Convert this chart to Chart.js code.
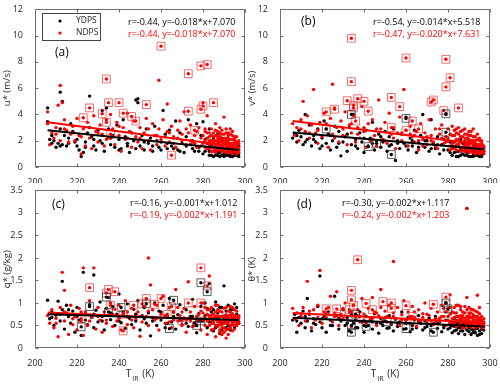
<!DOCTYPE html>
<html>
<head>
<meta charset="utf-8">
<script src="https://cdn.jsdelivr.net/npm/chart.js@4"></script>
<style>
html, body { margin: 0; padding: 0; width: 500px; height: 385px; overflow: hidden; background: #fff; }
canvas { position: absolute; }
</style>
</head>
<body>
<canvas id="ga" width="262" height="187" style="left:0;top:0"></canvas>
<canvas id="gb" width="262" height="187" style="left:245px;top:0"></canvas>
<canvas id="gc" width="262" height="204" style="left:0;top:181px"></canvas>
<canvas id="gd" width="262" height="204" style="left:245px;top:181px"></canvas>
<script>
const fuente = "'Open Sans', sans-serif";
const colorTexto = "#262626";

// ticks
const ticksX = [200, 220, 240, 260, 280, 300];
const ticksUV = [0, 2, 4, 6, 8, 10, 12];
const ticksQT = [0, 0.5, 1, 1.5, 2, 2.5, 3, 3.5];
const leyenda = ["YDPS", "NDPS"];

// (a) u*  -- pares x,y
const uNegro = [206,4.5, 206,3.45, 207,2.1, 208,1.8, 209,2.0, 210,1.5, 211,1.8, 212,5.7, 212,2.9, 213,5.0, 213,1.7, 214,2.4, 215,1.6, 216,2.2, 217,3.3, 218,2.7, 219,1.9, 220,2.1, 221,1.3, 222,0.8, 223,1.1, 224,1.5, 225,2.6, 226,5.4, 226,3.0, 227,2.3, 228,1.6, 229,1.3, 230,2.8, 231,2.0,
  232,4.3, 233,1.2, 234,4.5, 235,2.9, 236,1.7, 237,2.4, 238,1.5, 239,3.2, 240,2.1, 241,1.4, 242,3.6, 243,2.3, 244,1.8, 245,1.1, 246,2.6, 247,2.0, 248,5.1, 249,5.2, 249,4.9, 250,1.6, 251,2.4, 252,1.3, 253,2.9, 254,1.8, 255,2.2, 256,1.2, 257,3.1, 258,2.0, 259,1.5, 260,1.9,
  261,4.3, 262,2.5, 263,1.4, 264,2.8, 265,1.6, 266,2.2, 267,3.5, 268,1.3, 269,2.6, 270,1.8, 271,1.1, 272,2.3, 273,3.6, 274,1.7, 275,2.0, 276,1.2, 277,3.3, 278,1.5, 279,2.4, 280,3.45, 280,1.0, 281,2.1, 282,1.4, 283,2.9, 283,0.9, 284,1.7, 285,1.2, 285,2.2, 286,0.9, 286,1.6,
  287,2.5, 287,1.1, 288,1.9, 288,0.8, 289,1.3, 289,2.2, 290,1.0, 290,1.7, 291,1.4, 291,2.0, 292,0.9, 292,1.2, 293,1.6, 293,1.0, 294,1.3, 294,0.8, 295,1.5, 295,1.1, 296,0.9, 296,1.3, 297,1.0, 297,1.6];
const uNegroNube = [281,1.2, 282,1.8, 283,1.2, 284,0.9, 284,2.0, 285,0.8, 286,1.2, 287,0.9, 288,1.4, 288,1.1, 289,0.9, 289,1.6, 290,1.3, 290,0.8, 291,1.1, 291,0.9, 292,1.5, 292,1.8, 293,0.8, 293,1.3, 294,1.1, 294,1.6, 295,0.9, 295,1.3, 296,1.1, 296,1.6, 297,1.3, 297,0.8,
  278,1.2, 275,1.4, 272,1.6, 269,1.2, 266,1.4, 263,1.8, 260,1.3, 256,1.6, 252,1.9, 248,1.4, 244,1.6, 240,1.3, 236,2.2, 232,1.8, 228,2.1, 224,1.9, 220,1.6, 216,1.8, 212,1.6, 208,2.4];
const uRojo = [206,4.2, 206,3.3, 207,1.7, 208,2.6, 209,2.2, 210,3.0, 211,4.7, 212,6.2, 212,2.0, 213,4.9, 214,3.6, 215,2.8, 216,1.9, 217,2.5, 218,3.1, 219,2.0, 220,3.7, 221,2.4, 222,1.0, 223,2.9, 224,1.6, 225,3.4, 226,2.2, 227,1.4, 228,3.9, 229,2.7, 230,1.9,
  231,3.2, 232,2.5, 233,1.6, 234,3.6, 235,2.2, 236,4.0, 237,2.9, 238,1.7, 239,3.4, 240,2.4, 241,1.2, 242,3.0, 243,2.1, 244,4.1, 245,2.7, 246,1.5, 247,3.5, 248,2.3, 249,1.9, 250,3.0, 251,1.4, 252,2.6, 253,3.7, 254,2.0, 255,1.3, 256,3.3, 257,2.4, 258,1.7, 259,6.6, 259,2.9,
  260,2.1, 261,3.6, 262,1.6, 263,4.8, 263,2.7, 264,1.9, 265,3.1, 266,2.3, 267,1.5, 268,2.8, 269,3.5, 270,2.0, 271,4.2, 272,1.7, 273,2.6, 274,3.2, 275,1.9, 276,2.4, 277,1.5, 278,3.0, 279,2.2, 280,4.9, 280,1.8, 281,2.7, 282,1.4, 282,3.9, 283,2.3, 283,1.7, 284,2.9, 284,1.2,
  285,2.0, 285,1.5, 286,3.3, 286,2.4, 286,1.1, 287,1.8, 287,2.7, 287,1.3, 288,2.1, 288,1.6, 288,3.0, 289,1.2, 289,2.5, 289,1.9, 290,1.4, 290,2.2, 290,3.8, 291,1.7, 291,2.6, 291,1.1, 292,2.0, 292,1.5, 292,2.4, 293,1.3, 293,1.8, 293,2.9, 294,1.6, 294,2.1, 294,1.0,
  295,1.4, 295,1.9, 295,2.3, 296,1.2, 296,1.7, 297,1.5, 297,2.0];
const uRojoNube = [280,2.4, 281,1.5, 281,2.0, 282,2.6, 282,1.8, 283,1.4, 283,2.6, 284,2.0, 284,2.4, 284,1.5, 285,2.6, 285,1.8, 285,1.2, 286,2.0, 286,1.6, 286,2.8, 287,2.2, 287,1.5, 287,2.4, 288,1.3, 288,1.9, 288,2.6, 289,1.6, 289,2.1, 289,2.8, 290,1.2, 290,1.8, 290,2.5,
  291,1.5, 291,2.2, 291,2.9, 292,1.3, 292,1.8, 292,2.2, 293,1.1, 293,1.6, 293,2.1, 293,2.5, 294,1.3, 294,1.8, 294,2.4, 295,1.2, 295,1.7, 295,2.1, 296,1.0, 296,1.5, 296,1.9, 296,2.3, 297,1.3, 297,1.8, 286,1.3, 288,2.3, 290,2.0, 292,2.6, 294,2.7, 284,1.8, 282,2.2,
  281,2.9, 283,2.0, 285,2.3, 287,2.0, 289,1.4, 291,1.9, 293,1.4, 295,1.5, 297,1.1, 262,2.3, 266,1.8, 270,2.5, 274,2.0, 277,2.7, 279,1.6, 276,1.8, 272,2.9, 268,2.2, 264,2.6, 258,2.4, 254,2.9, 250,2.2, 246,2.6, 244,2.2, 240,3.1, 237,2.3, 234,2.1, 230,2.6,
  226,3.0, 222,2.3, 218,2.6, 214,2.9, 210,2.5];
const uCajaRoja = [234,6.7, 223,3.75, 226,4.5, 232,4.05, 235,4.9, 240,4.9, 242,4.1, 246,3.85, 253,4.75, 260,9.2, 273,7.1, 279,7.7, 282,7.8, 273,4.25, 279,4.4, 280,4.65, 285,4.9, 265,0.9, 276,2.8, 234,3.4, 236,2.5, 248,3.5];
const uCajaNegra = [];
const uLineaNegra = [206,2.8, 297,1.3];
const uLineaRoja = [206,3.4, 297,1.55];

// (b) v*
const vNegro = [206,2.2, 207,2.5, 208,1.9, 209,2.8, 210,2.3, 211,1.7, 212,4.0, 212,2.6, 213,2.1, 214,3.2, 215,1.6, 216,2.4, 217,1.9, 218,2.9, 219,1.4, 220,2.2, 221,3.5, 222,1.8, 223,2.5, 224,1.3, 225,2.0, 226,3.1, 227,1.5, 228,2.7, 229,0.85, 230,1.9,
  231,2.3, 232,1.2, 233,3.0, 234,1.7, 235,4.0, 236,2.1, 237,1.4, 238,2.6, 239,1.9, 240,1.1, 241,2.8, 242,1.6, 243,2.2, 244,3.4, 245,1.3, 246,2.0, 247,2.5, 248,1.5, 249,1.9, 250,2.7, 251,1.2, 252,2.3, 253,1.7, 254,2.9, 255,0.5, 256,2.0, 257,1.4, 258,2.5, 259,1.8,
  260,3.8, 261,1.3, 262,2.2, 263,1.6, 264,2.8, 265,1.1, 266,1.9, 267,2.4, 268,4.0, 269,1.5, 270,2.0, 271,1.2, 272,3.6, 273,1.8, 274,1.4, 275,2.3, 276,1.0, 277,1.7, 278,2.1, 279,4.0, 280,1.3, 281,1.9, 282,0.9, 283,1.5, 283,2.4, 284,1.2, 285,1.7, 285,0.8,
  286,2.1, 286,1.4, 287,1.0, 287,1.8, 288,1.3, 288,0.9, 289,1.6, 289,2.2, 290,1.1, 290,1.5, 291,0.8, 291,1.9, 292,1.3, 292,1.0, 293,1.6, 293,1.2, 294,0.9, 294,1.4, 295,1.1, 295,1.7, 296,1.3, 296,1.0, 297,1.2, 297,1.5];
const vNegroNube = [281,1.1, 282,1.6, 283,1.1, 284,0.8, 284,1.6, 285,1.2, 286,0.9, 287,1.4, 288,1.7, 289,1.1, 289,0.9, 290,1.8, 290,0.8, 291,1.2, 292,1.6, 292,0.8, 293,0.9, 293,1.4, 294,1.1, 294,1.2, 295,0.8, 295,1.4, 296,1.2, 296,0.8, 297,1.0, 297,1.3,
  278,1.3, 275,1.7, 272,1.4, 269,2.0, 266,1.5, 263,2.0, 260,1.6, 256,1.8, 252,1.6, 248,2.3, 244,1.8, 240,2.2, 236,1.6, 232,2.5, 228,1.8, 224,2.4, 220,1.6, 216,2.1, 212,1.9, 208,2.4];
const vRojo = [206,3.3, 207,2.4, 208,3.0, 209,2.0, 210,3.6, 211,5.0, 212,2.7, 213,3.9, 214,2.2, 215,3.2, 216,5.9, 217,2.6, 218,1.8, 219,3.4, 220,2.3, 221,4.1, 222,2.9, 223,1.5, 224,3.7, 225,6.3, 225,2.5, 226,4.5, 227,3.0, 228,1.9, 229,3.5, 230,2.4,
  231,4.2, 232,1.7, 233,3.2, 234,2.6, 235,3.9, 236,1.9, 237,3.0, 238,2.2, 239,4.6, 240,2.7, 241,1.5, 242,3.3, 243,2.0, 244,3.6, 245,2.4, 246,1.6, 247,5.1, 248,2.9, 249,2.1, 250,3.4, 251,1.8, 252,4.1, 253,2.5, 254,3.0, 255,1.4, 256,2.6, 257,3.8, 258,2.0, 259,5.9,
  260,2.8, 261,1.6, 262,3.1, 263,2.3, 264,1.9, 265,2.7, 266,1.3, 267,3.3, 268,2.1, 269,2.6, 270,1.7, 271,3.6, 272,2.4, 273,1.9, 274,2.9, 275,1.4, 276,2.5, 277,3.2, 278,1.8, 279,2.3, 280,2.0, 280,2.9, 281,1.6, 282,3.1, 282,2.4, 283,1.9, 283,1.4, 284,2.6, 284,2.1,
  285,1.7, 285,3.0, 286,2.3, 286,1.5, 287,2.8, 287,1.9, 287,1.3, 288,2.2, 288,1.7, 288,2.9, 289,1.5, 289,2.5, 289,1.9, 290,1.3, 290,2.1, 290,2.7, 291,1.8, 291,1.4, 291,2.4, 292,1.6, 292,2.0, 292,2.9, 293,1.3, 293,1.8, 293,2.3, 294,1.5, 294,2.1, 294,1.1,
  295,1.7, 295,1.3, 295,2.0, 296,1.4, 296,1.8, 297,1.2, 297,1.6];
const vRojoNube = [280,2.2, 281,1.3, 281,2.5, 282,1.8, 282,1.4, 283,2.4, 283,2.8, 284,1.7, 284,1.3, 285,2.1, 285,2.5, 286,1.2, 286,1.9, 286,2.7, 287,1.5, 287,2.3, 288,1.2, 288,2.0, 288,2.5, 289,1.3, 289,1.7, 289,2.2, 290,1.1, 290,1.6, 290,2.4, 291,1.2, 291,2.0,
  291,2.7, 292,1.1, 292,1.4, 292,2.3, 293,1.0, 293,1.5, 293,2.0, 294,1.2, 294,1.7, 294,2.5, 295,1.0, 295,1.5, 295,2.2, 296,1.1, 296,1.6, 296,2.0, 297,1.0, 297,1.4, 284,2.9, 288,1.5, 290,1.9, 292,1.8, 294,1.4, 296,1.3,
  262,2.5, 266,2.0, 270,2.3, 274,1.6, 277,2.2, 279,1.9, 276,2.9, 272,2.0, 268,1.6, 264,2.4, 258,2.6, 254,2.2, 250,2.0, 246,2.9, 244,2.1, 240,3.0, 237,2.5, 234,3.3, 230,2.9, 226,2.2, 222,3.3, 218,2.8, 214,2.6, 210,2.9];
const vCajaRoja = [234,9.8, 260,8.3, 279,8.2, 281,6.8, 279,6.1, 234,6.5, 237,5.2, 240,5.0, 232,5.05, 253,5.3, 273,5.1, 272,4.95, 257,4.6, 285,4.5, 222,4.2, 226,4.4, 235,4.5, 242,4.25, 236,3.5, 260,2.8, 263,3.5, 266,2.9, 278,4.3, 253,3.0, 235,4.7];
const vCajaNegra = [222,2.9, 234,4.0, 242,1.55, 253,0.95, 260,3.7, 279,4.05, 279,2.65, 246,1.8];
const vLineaNegra = [206,2.63, 297,1.36];
const vLineaRoja = [206,3.51, 297,1.69];

// (c) q*
const qNegro = [206,1.06, 207,0.65, 208,0.8, 209,0.5, 210,0.73, 211,1.04, 212,0.6, 213,1.48, 213,0.85, 214,0.42, 215,0.95, 216,0.7, 217,0.55, 218,0.82, 219,0.35, 220,0.9, 221,0.62, 222,0.28, 223,1.68, 224,0.76, 225,0.52, 226,0.96, 227,0.68, 228,1.62, 228,0.45,
  229,0.84, 230,0.58, 231,1.02, 232,0.7, 233,0.4, 234,0.88, 235,1.12, 236,0.63, 237,0.92, 238,0.5, 239,0.75, 240,1.2, 241,0.56, 242,0.8, 243,0.44, 244,0.98, 245,0.66, 246,0.52, 247,0.86, 248,0.6, 249,1.05, 250,0.4, 251,0.72, 252,0.9, 253,0.55, 254,0.78, 255,0.27,
  256,0.68, 257,1.0, 258,0.5, 259,0.82, 260,0.62, 261,0.95, 262,0.45, 263,0.7, 264,1.1, 265,0.58, 266,0.8, 267,0.42, 268,0.74, 269,0.96, 270,0.52, 271,0.66, 272,0.85, 273,0.48, 274,0.7, 275,1.08, 276,0.55, 277,0.34, 278,0.76, 279,0.92, 280,0.6, 281,1.0,
  282,0.45, 283,0.72, 283,1.43, 284,0.56, 285,0.85, 285,0.38, 286,0.66, 286,1.02, 287,0.5, 287,0.78, 288,0.62, 288,0.32, 289,0.9, 289,0.55, 290,0.7, 290,1.38, 291,0.45, 291,0.82, 292,0.6, 292,0.95, 293,0.4, 293,0.72, 294,0.86, 294,0.52, 295,0.65, 295,0.98,
  296,0.58, 296,0.75, 297,0.7];
const qNegroNube = [281,0.72, 282,0.88, 283,0.58, 284,0.8, 285,0.62, 286,0.45, 287,0.65, 288,0.9, 289,0.4, 290,0.58, 291,0.7, 292,0.5, 293,0.85, 294,0.65, 295,0.45, 296,0.9, 297,0.55, 278,0.6, 275,0.7, 272,0.55, 269,0.62, 266,0.7, 263,0.55, 260,0.8,
  256,0.6, 252,0.65, 248,0.75, 244,0.7, 240,0.6, 236,0.78, 232,0.6, 228,0.75, 224,0.62, 220,0.7, 216,0.85, 212,0.75, 208,0.68];
const qRojo = [206,0.72, 207,0.55, 208,0.85, 209,0.45, 210,0.66, 211,0.25, 212,0.9, 213,1.68, 214,1.28, 214,0.6, 215,0.78, 216,0.3, 217,0.95, 218,0.52, 219,0.7, 220,0.4, 221,0.88, 222,0.6, 223,1.78, 223,0.28, 224,0.8, 225,0.5, 226,1.05, 227,0.68, 228,1.78,
  229,0.42, 230,0.9, 231,0.62, 232,0.35, 233,0.8, 234,0.55, 235,0.72, 236,1.0, 237,0.48, 238,0.86, 239,0.6, 240,0.95, 241,0.4, 242,0.78, 243,1.05, 244,0.52, 245,0.7, 246,0.88, 247,0.45, 248,0.65, 249,0.8, 250,0.26, 251,0.58, 252,0.92, 253,0.7, 254,2.0, 254,0.5,
  255,1.4, 256,0.85, 257,0.62, 258,0.95, 259,0.4, 260,0.75, 261,1.15, 262,0.55, 263,0.68, 264,0.9, 265,0.45, 266,0.8, 267,1.3, 268,0.6, 269,0.72, 270,0.5, 271,0.88, 272,0.35, 273,1.47, 273,0.66, 274,0.8, 275,0.48, 276,0.92, 277,0.6, 278,0.75, 279,0.4,
  280,1.0, 280,0.62, 281,0.5, 282,0.85, 282,0.3, 283,1.6, 283,0.7, 284,0.55, 284,0.9, 285,0.42, 285,0.66, 286,0.8, 286,0.5, 286,0.25, 287,0.72, 287,0.58, 287,0.95, 288,0.4, 288,0.62, 288,0.82, 289,0.52, 289,0.7, 289,0.3, 290,0.6, 290,0.88, 290,0.45,
  291,0.74, 291,0.55, 291,0.22, 292,0.66, 292,0.82, 292,0.42, 293,0.5, 293,0.7, 293,0.92, 294,0.58, 294,0.76, 294,0.38, 295,0.64, 295,0.5, 295,0.85, 296,0.56, 296,0.7, 297,0.6, 297,0.66];
const qRojoNube = [280,0.78, 281,0.68, 281,0.9, 282,0.6, 282,0.75, 283,0.5, 283,0.85, 284,0.65, 284,0.4, 285,0.75, 285,0.55, 286,0.95, 286,0.62, 287,0.48, 287,0.85, 288,0.7, 288,0.52, 288,0.35, 289,0.8, 289,0.6, 289,0.45, 290,0.72, 290,0.55, 290,0.35, 291,0.65,
  291,0.9, 291,0.4, 292,0.55, 292,0.72, 292,0.3, 293,0.62, 293,0.8, 293,0.45, 294,0.68, 294,0.52, 294,0.9, 295,0.58, 295,0.72, 295,0.42, 296,0.65, 296,0.5, 296,0.82, 297,0.55, 297,0.72, 286,0.7, 288,0.58, 290,0.65, 292,0.6, 294,0.62, 284,0.72,
  262,0.72, 266,0.62, 270,0.8, 274,0.6, 277,0.7, 279,0.82, 276,0.5, 272,0.62, 268,0.9, 264,0.58, 258,0.66, 254,0.82, 250,0.7, 246,0.62, 244,0.8, 240,0.66, 237,0.75, 234,0.62, 230,0.7, 226,0.6, 222,0.8, 218,0.65, 214,0.8, 210,0.55];
const qCajaRoja = [279,1.78, 226,1.34, 235,1.3, 234,1.22, 238,1.25, 253,1.1, 260,1.1, 236,0.95, 247,0.95, 251,0.98, 257,0.97, 265,0.92, 273,1.0, 279,1.0, 282,1.38, 242,0.38, 222,0.65, 242,0.75, 263,0.75, 270,0.6];
const qCajaNegra = [222,0.47, 226,0.92, 234,1.13, 235,0.8, 241,0.9, 253,0.98, 264,0.43, 266,1.06, 279,1.45, 282,1.25, 279,0.6, 277,0.5];
const qLineaNegra = [206,0.75, 297,0.62];
const qLineaRoja = [206,0.79, 297,0.6];

// (d) theta*
const tNegro = [206,0.62, 207,0.75, 208,0.35, 209,0.68, 210,0.55, 211,0.82, 212,0.45, 213,1.1, 213,0.6, 214,0.75, 215,0.38, 216,0.65, 217,0.52, 218,0.92, 219,1.6, 219,0.58, 220,0.45, 221,0.7, 222,0.35, 223,0.8, 224,0.62, 225,0.5, 226,1.15, 227,0.72, 228,0.42,
  229,0.6, 230,0.85, 231,0.5, 232,0.68, 233,0.38, 234,0.75, 235,0.55, 236,0.62, 237,0.45, 238,0.8, 239,0.58, 240,0.35, 241,0.7, 242,0.5, 243,0.62, 244,0.42, 245,0.76, 246,0.55, 247,0.33, 248,0.66, 249,0.5, 250,0.6, 251,0.44, 252,0.72, 253,0.52, 254,0.38,
  255,0.64, 256,0.48, 257,0.58, 258,0.8, 259,0.42, 260,0.55, 261,0.68, 262,0.36, 263,0.5, 264,0.62, 265,0.45, 266,0.72, 267,0.55, 268,0.4, 269,0.6, 270,0.48, 271,0.66, 272,0.38, 273,0.54, 274,0.7, 275,0.44, 276,0.58, 277,0.36, 278,0.5, 279,1.0, 279,0.62,
  280,0.42, 281,0.56, 282,0.34, 283,0.48, 283,0.66, 284,0.4, 285,0.55, 285,0.32, 286,0.46, 286,0.62, 287,0.38, 287,0.52, 288,0.3, 288,0.45, 289,3.1, 289,0.58, 290,0.36, 290,0.5, 291,0.42, 291,0.3, 292,0.55, 292,0.4, 293,0.34, 293,0.48, 294,0.28, 294,0.44,
  295,0.38, 295,0.52, 296,0.32, 296,0.46, 297,0.4];
const tNegroNube = [281,0.45, 282,0.5, 283,0.38, 284,0.55, 285,0.45, 286,0.38, 287,0.45, 288,0.55, 289,0.4, 290,0.45, 291,0.52, 292,0.35, 293,0.42, 294,0.5, 295,0.3, 296,0.42, 297,0.48, 278,0.45, 275,0.55, 272,0.5, 269,0.45, 266,0.6, 263,0.42, 260,0.62,
  256,0.55, 252,0.45, 248,0.55, 244,0.58, 240,0.5, 236,0.45, 232,0.55, 228,0.66, 224,0.5, 220,0.65, 216,0.55, 212,0.7, 208,0.6];
const tRojo = [206,0.88, 207,0.65, 208,0.78, 209,0.5, 210,0.7, 211,0.9, 212,0.6, 213,1.48, 214,0.75, 215,0.45, 216,0.85, 217,0.62, 218,0.95, 219,1.72, 220,0.55, 221,0.8, 222,0.68, 223,0.9, 224,1.15, 225,0.58, 226,0.78, 227,1.25, 228,0.5, 229,0.72, 230,0.88,
  231,1.0, 232,0.62, 233,0.8, 234,0.48, 235,0.95, 236,0.7, 237,0.85, 238,0.58, 239,1.1, 240,0.75, 241,0.55, 242,0.88, 243,0.65, 244,1.12, 245,0.8, 246,0.5, 247,0.72, 248,1.3, 248,0.9, 249,0.6, 250,0.82, 251,0.7, 252,0.95, 253,0.55, 254,1.92, 254,0.78,
  255,0.65, 256,0.9, 257,0.5, 258,0.74, 259,1.05, 260,0.62, 261,0.8, 262,0.55, 263,0.92, 264,0.68, 265,0.48, 266,0.85, 267,0.6, 268,0.76, 269,1.0, 270,0.58, 271,0.72, 272,0.88, 273,0.52, 274,0.66, 275,0.8, 276,0.6, 277,0.95, 278,0.7, 279,0.5, 280,0.85,
  280,0.62, 281,0.75, 281,1.18, 282,0.55, 283,0.9, 283,0.68, 284,0.48, 284,0.78, 285,0.62, 285,0.95, 286,0.55, 286,0.72, 286,0.85, 287,0.45, 287,0.66, 287,0.8, 288,0.58, 288,0.92, 288,0.5, 289,3.1, 289,0.7, 289,0.62, 289,1.12, 290,0.52, 290,0.78, 290,0.66,
  291,0.58, 291,0.86, 291,0.46, 292,0.64, 292,0.74, 292,0.55, 293,0.5, 293,0.7, 293,0.82, 294,1.17, 294,0.6, 294,0.48, 295,0.66, 295,0.55, 295,0.76, 296,0.52, 296,0.62, 297,0.58, 297,0.5];
const tRojoNube = [280,0.7, 281,0.55, 281,0.9, 282,0.65, 282,0.8, 283,0.55, 283,0.78, 284,0.62, 284,0.95, 285,0.7, 285,0.5, 286,0.65, 286,0.92, 287,0.58, 287,0.72, 288,0.66, 288,0.78, 288,0.45, 289,0.55, 289,0.85, 290,0.6, 290,0.72, 290,0.9, 291,0.52, 291,0.68,
  291,0.78, 292,0.5, 292,0.6, 292,0.85, 293,0.58, 293,0.62, 293,0.45, 294,0.7, 294,0.55, 294,0.8, 295,0.5, 295,0.6, 295,0.9, 296,0.56, 296,0.7, 296,0.45, 297,0.55, 297,0.65, 286,0.58, 288,0.6, 290,0.55, 292,0.68, 294,0.64, 284,0.7,
  262,0.7, 266,0.62, 270,0.75, 274,0.58, 277,0.7, 279,0.8, 276,0.66, 272,0.6, 268,0.68, 264,0.8, 258,0.62, 254,0.7, 250,0.68, 246,0.78, 244,0.66, 240,0.62, 237,0.72, 234,0.8, 230,0.66, 226,0.7, 222,0.78, 218,0.68, 214,0.82, 210,0.76];
const tCajaRoja = [237,1.96, 234,1.28, 234,1.07, 233,0.85, 241,0.99, 249,1.03, 253,1.0, 253,0.88, 260,0.94, 273,0.97, 279,1.13, 222,0.87, 227,0.87, 235,0.95, 244,0.85, 238,0.7, 263,0.7, 278,0.88, 229,0.75];
const tCajaNegra = [234,0.35, 236,0.75, 241,0.48, 260,0.43, 273,0.35, 279,1.0, 280,0.87, 234,0.5, 251,0.58];
const tLineaNegra = [206,0.67, 297,0.48];
const tLineaRoja = [206,0.78, 297,0.56];

const pares = (arr) => {
    const out = [];
    for (let i = 0; i < arr.length; i += 2) out.push({ x: arr[i], y: arr[i + 1] });
    return out;
};

// marco, ticks hacia adentro, textos y leyenda
const marco = {
    id: 'marco',
    afterDatasetsDraw(chart, args, o) {
        const { ctx, chartArea: a, scales } = chart;
        const L = Math.round(a.left) + 0.5, R = Math.round(a.right) - 0.5;
        const T = Math.round(a.top) + 0.5, B = Math.round(a.bottom) - 0.5;
        ctx.save();
        ctx.strokeStyle = '#6e6e6e';
        ctx.lineWidth = 1;
        ctx.strokeRect(L, T, R - L, B - T);
        ctx.beginPath();
        ticksX.forEach(v => {
            const px = Math.round(scales.x.getPixelForValue(v)) + 0.5;
            ctx.moveTo(px, B); ctx.lineTo(px, B - 3);
            ctx.moveTo(px, T); ctx.lineTo(px, T + 3);
        });
        o.ticksY.forEach(v => {
            const py = Math.round(scales.y.getPixelForValue(v)) + 0.5;
            ctx.moveTo(L, py); ctx.lineTo(L + 3, py);
            ctx.moveTo(R, py); ctx.lineTo(R - 3, py);
        });
        ctx.stroke();

        ctx.textBaseline = 'middle';
        ctx.textAlign = 'left';
        ctx.font = '9px ' + fuente;
        ctx.fillStyle = '#000';
        ctx.fillText(o.textoNegro, o.textoX, 22);
        ctx.fillStyle = '#ff0000';
        ctx.fillText(o.textoRojo, o.textoX, 34);

        ctx.fillStyle = '#000';
        ctx.font = '12px ' + fuente;
        ctx.fillText(o.etiqueta, o.etiquetaX, o.etiquetaY);

        if (o.leyenda) {
            ctx.fillStyle = '#fff';
            ctx.fillRect(42, 13, 58, 27);
            ctx.strokeStyle = '#444';
            ctx.strokeRect(42.5, 13.5, 58, 27);
            ctx.font = '8.5px ' + fuente;
            [['#000', 21], ['#ff0000', 33]].forEach(([c, y], i) => {
                ctx.fillStyle = c;
                ctx.beginPath(); ctx.arc(60, y, 1.6, 0, Math.PI * 2); ctx.fill();
                ctx.fillStyle = colorTexto;
                ctx.fillText(leyenda[i], 76, y);
            });
        }

        if (o.tituloX) {
            const cx = (a.left + a.right) / 2;
            const y = a.bottom + 26;
            ctx.fillStyle = colorTexto;
            ctx.font = '10px ' + fuente;
            const wT = ctx.measureText('T').width;
            const wK = ctx.measureText(' (K)').width;
            ctx.font = '7px ' + fuente;
            const wIR = ctx.measureText('IR').width;
            let x = cx - (wT + wIR + wK + 2) / 2;
            ctx.font = '10px ' + fuente;
            ctx.fillText('T', x, y);
            x += wT + 1;
            ctx.font = '7px ' + fuente;
            ctx.fillText('IR', x, y + 5);
            x += wIR + 1;
            ctx.font = '10px ' + fuente;
            ctx.fillText(' (K)', x, y);
        }
        ctx.restore();
    }
};

function panel(id, d) {
    const puntos = (arr, color) => ({ data: pares(arr), backgroundColor: color, borderWidth: 0, pointRadius: 1.7, pointHoverRadius: 1.7 });
    const cajas = (arr, color) => ({ data: pares(arr), pointStyle: 'rect', backgroundColor: 'rgba(0,0,0,0)', borderColor: color, borderWidth: 1, pointRadius: 5.5 });
    const linea = (arr, color) => ({ data: pares(arr), showLine: true, borderColor: color, borderWidth: 2, pointRadius: 0 });
    const fuenteTicks = { family: fuente, size: 9 };
    new Chart(document.getElementById(id), {
        type: 'scatter',
        data: {
            datasets: [
                linea(d.lineaNegra, '#000'),
                linea(d.lineaRoja, '#ff0000'),
                cajas(d.cajaNegra, 'rgba(40,40,40,0.75)'),
                puntos(d.cajaNegra, '#000'),
                cajas(d.cajaRoja, 'rgba(240,50,50,0.7)'),
                puntos(d.cajaRoja, '#ff0000'),
                puntos(d.rojo, '#ff0000'),
                puntos(d.rojoNube, '#ff0000'),
                puntos(d.negro, '#000'),
                puntos(d.negroNube, '#000')
            ]
        },
        options: {
            responsive: false,
            animation: false,
            layout: { padding: { left: 0, top: 7, right: 17, bottom: 4 } },
            plugins: {
                legend: { display: false },
                tooltip: { enabled: false },
                marco: d.extra
            },
            scales: {
                x: {
                    type: 'linear', min: 200, max: 300,
                    afterBuildTicks: s => { s.ticks = ticksX.map(v => ({ value: v })); },
                    afterFit: s => { s.height = d.altoX; },
                    grid: { display: false }, border: { display: false },
                    ticks: { font: fuenteTicks, color: colorTexto, padding: 2, maxRotation: 0, callback: v => String(v) }
                },
                y: {
                    min: 0, max: d.ticksY[d.ticksY.length - 1],
                    afterBuildTicks: s => { s.ticks = d.ticksY.map(v => ({ value: v })); },
                    afterFit: s => { s.width = 35; },
                    grid: { display: false }, border: { display: false },
                    ticks: { font: fuenteTicks, color: colorTexto, padding: 4, callback: v => String(v) },
                    title: { display: true, text: d.tituloY, color: colorTexto, font: { family: fuente, size: 9.5 }, padding: { top: 2, bottom: 0 } }
                }
            }
        },
        plugins: [marco]
    });
}

panel('ga', {
    negro: uNegro, negroNube: uNegroNube, rojo: uRojo, rojoNube: uRojoNube, cajaRoja: uCajaRoja, cajaNegra: uCajaNegra, lineaNegra: uLineaNegra, lineaRoja: uLineaRoja,
    ticksY: ticksUV, tituloY: 'u* (m/s)', altoX: 16,
    extra: { ticksY: ticksUV, textoNegro: 'r=-0.44, y=-0.018*x+7.070', textoRojo: 'r=-0.44, y=-0.018*x+7.070', textoX: 128, etiqueta: '(a)', etiquetaX: 55, etiquetaY: 53, leyenda: true, tituloX: false }
});
panel('gb', {
    negro: vNegro, negroNube: vNegroNube, rojo: vRojo, rojoNube: vRojoNube, cajaRoja: vCajaRoja, cajaNegra: vCajaNegra, lineaNegra: vLineaNegra, lineaRoja: vLineaRoja,
    ticksY: ticksUV, tituloY: 'v* (m/s)', altoX: 16,
    extra: { ticksY: ticksUV, textoNegro: 'r=-0.54, y=-0.014*x+5.518', textoRojo: 'r=-0.47, y=-0.020*x+7.631', textoX: 128, etiqueta: '(b)', etiquetaX: 56, etiquetaY: 22, leyenda: false, tituloX: false }
});
panel('gc', {
    negro: qNegro, negroNube: qNegroNube, rojo: qRojo, rojoNube: qRojoNube, cajaRoja: qCajaRoja, cajaNegra: qCajaNegra, lineaNegra: qLineaNegra, lineaRoja: qLineaRoja,
    ticksY: ticksQT, tituloY: 'q* (g/kg)', altoX: 33,
    extra: { ticksY: ticksQT, textoNegro: 'r=-0.16, y=-0.001*x+1.012', textoRojo: 'r=-0.19, y=-0.002*x+1.191', textoX: 130, etiqueta: '(c)', etiquetaX: 52, etiquetaY: 24, leyenda: false, tituloX: true }
});
panel('gd', {
    negro: tNegro, negroNube: tNegroNube, rojo: tRojo, rojoNube: tRojoNube, cajaRoja: tCajaRoja, cajaNegra: tCajaNegra, lineaNegra: tLineaNegra, lineaRoja: tLineaRoja,
    ticksY: ticksQT, tituloY: 'θ* (K)', altoX: 33,
    extra: { ticksY: ticksQT, textoNegro: 'r=-0.30, y=-0.002*x+1.117', textoRojo: 'r=-0.24, y=-0.002*x+1.203', textoX: 97, etiqueta: '(d)', etiquetaX: 52, etiquetaY: 24, leyenda: false, tituloX: true }
});
</script>
</body>
</html>
